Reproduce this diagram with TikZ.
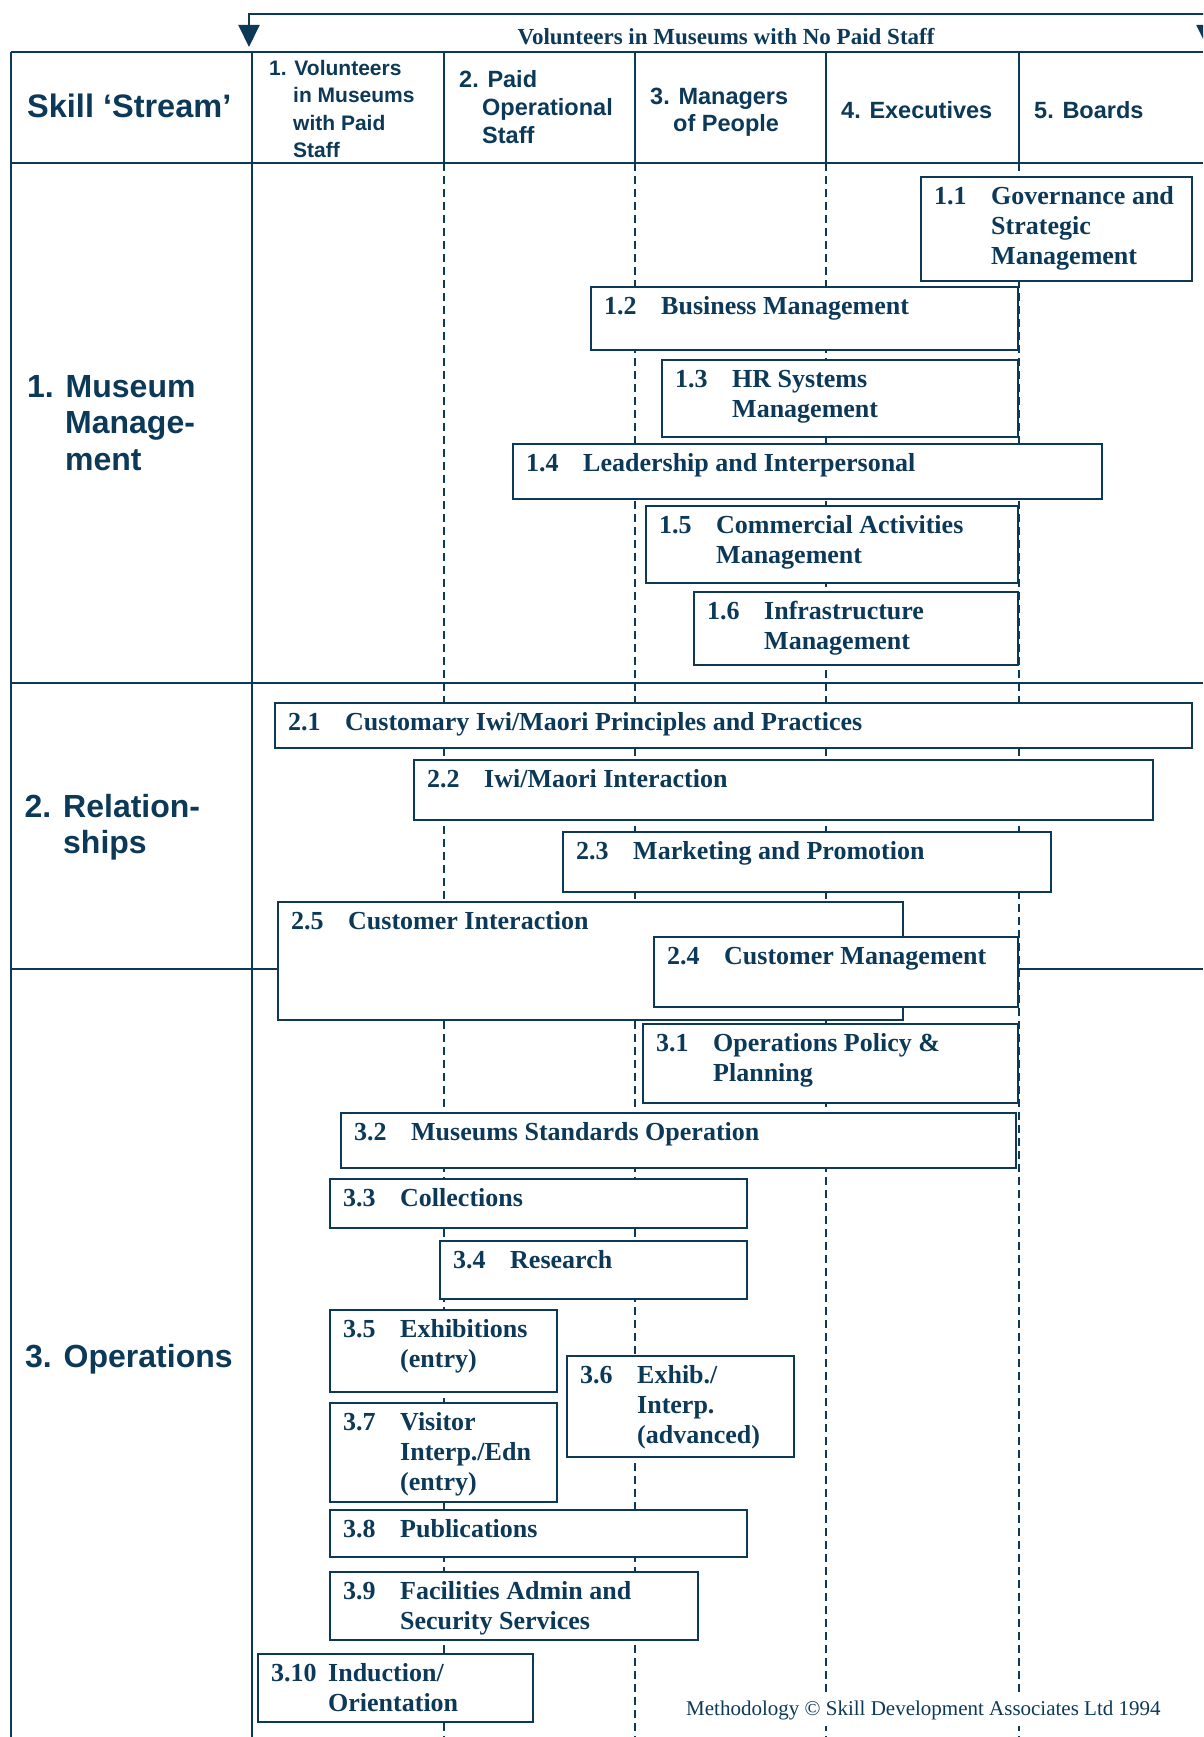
\documentclass[tikz,border=0pt]{standalone}
\usepackage{fontspec}
\setmainfont{Liberation Serif}
\setsansfont{Liberation Sans}
\usetikzlibrary{arrows.meta}
\definecolor{navy}{RGB}{13,57,89}
\tikzset{
  gridline/.style={draw=navy, line width=2pt},
  colsep/.style={draw=navy, line width=1.8pt, dash pattern=on 8pt off 5pt},
  skbox/.style={draw=navy, fill=white, line width=2.8pt, inner sep=0pt, outer sep=0pt, anchor=north west},
  boxtxt/.style={text=navy, inner sep=0pt, anchor=base west, font=\fontsize{26}{30}\selectfont\bfseries},
  hdrtxt/.style={text=navy, inner sep=0pt, anchor=base west, font=\sffamily\bfseries\fontsize{23.5}{27.5}\selectfont},
  hdrsmall/.style={text=navy, inner sep=0pt, anchor=base west, font=\sffamily\bfseries\fontsize{21}{27.5}\selectfont},
  secttxt/.style={text=navy, inner sep=0pt, anchor=base west, font=\sffamily\bfseries\fontsize{32}{36.5}\selectfont},
  arrowtip/.tip={Triangle[width=21pt,length=22pt]}
}
\newcommand{\skb}[7]{%
  \node[skbox, minimum width={(#4-#2)*1pt}, minimum height={(#5-#3)*1pt}] (b#1) at (#2,#3) {};
  \node[boxtxt] (n#1) at ({#2+13},{#3+27}) {#6};
  \node[boxtxt] (t#1) at ({#2+70},{#3+27}) {\vtop{#7}};
}
\newcommand{\skl}[1]{\hbox{#1}}
\begin{document}
\begin{tikzpicture}[x=1pt,y=-1pt]
\useasboundingbox (0,0) rectangle (1203,1737);
\clip (0,0) rectangle (1203,1737);
\fill[white] (0,0) rectangle (1203,1737);

% top arrow
\coordinate (aL) at (249,47);
\coordinate (aTL) at (249,14);
\coordinate (aTR) at (1207,14);
\coordinate (aR) at (1207,47);
\draw[gridline, arrowtip-arrowtip] (aL) -- (aTL) -- (aTR) -- (aR);
\node[text=navy, inner sep=0pt, anchor=base, font=\bfseries\fontsize{23}{27}\selectfont] (nopaid) at (726,45) {Volunteers in Museums with No Paid Staff};

% table grid
\draw[gridline] (11,52) -- (1203,52);
\draw[gridline] (11,163) -- (1203,163);
\draw[gridline] (11,52) -- (11,1737);
\draw[gridline] (252,52) -- (252,1737);
\foreach \cx in {444,635,826,1019} {
  \draw[gridline] (\cx,52) -- (\cx,163);
  \draw[colsep] (\cx,163) -- (\cx,1737);
}
\draw[gridline] (11,683) -- (1203,683);
\draw[gridline] (11,969) -- (1203,969);

% headers
\node[secttxt, font=\sffamily\bfseries\fontsize{32.5}{36.5}\selectfont] (hskill) at (27,117) {Skill ‘Stream’};
\node[hdrsmall] (h1) at (293,75) {\vtop{\skl{\kern-24pt 1. Volunteers}\skl{in Museums}\skl{with Paid}\skl{Staff}}};
\node[hdrtxt] (h2) at (482,88) {\vtop{\skl{\kern-23pt 2. Paid}\skl{Operational}\skl{Staff}}};
\node[hdrtxt] (h3) at (673,104) {\vtop{\skl{\kern-23pt 3. Managers}\skl{of People}}};
\node[hdrtxt] (h4) at (841,118) {4. Executives};
\node[hdrtxt] (h5) at (1034,118) {5. Boards};

% section labels
\node[secttxt] (s1) at (65,397) {\vtop{\skl{\kern-38pt 1. Museum}\skl{Manage-}\skl{ment}}};
\node[secttxt] (s2) at (63,817) {\vtop{\skl{\kern-38.5pt 2. Relation-}\skl{ships}}};
\node[secttxt] (s3) at (25,1367) {3. Operations};

% stream 1
\skb{11}{921}{177}{1192}{281}{1.1}{\skl{Governance and}\skl{Strategic}\skl{Management}}
\skb{12}{591}{287}{1018}{350}{1.2}{\skl{Business Management}}
\skb{13}{662}{360}{1018}{437}{1.3}{\skl{HR Systems}\skl{Management}}
\skb{14}{513}{444}{1102}{499}{1.4}{\skl{Leadership and Interpersonal}}
\skb{15}{646}{506}{1018}{583}{1.5}{\skl{Commercial Activities}\skl{Management}}
\skb{16}{694}{592}{1018}{665}{1.6}{\skl{Infrastructure}\skl{Management}}

% stream 2
\skb{21}{275}{703}{1192}{748}{2.1}{\skl{Customary Iwi/Maori Principles and Practices}}
\skb{22}{414}{760}{1153}{820}{2.2}{\skl{Iwi/Maori Interaction}}
\skb{23}{563}{832}{1051}{892}{2.3}{\skl{Marketing and Promotion}}
\skb{25}{278}{902}{903}{1020}{2.5}{\skl{Customer Interaction}}
\skb{24}{654}{937}{1018}{1007}{2.4}{\skl{Customer Management}}

% stream 3
\skb{31}{643}{1024}{1018}{1103}{3.1}{\skl{Operations Policy \&}\skl{Planning}}
\skb{32}{341}{1113}{1016}{1168}{3.2}{\skl{Museums Standards Operation}}
\skb{33}{330}{1179}{747}{1228}{3.3}{\skl{Collections}}
\skb{34}{440}{1241}{747}{1299}{3.4}{\skl{Research}}
\skb{35}{330}{1310}{557}{1392}{3.5}{\skl{Exhibitions}\skl{(entry)}}
\skb{36}{567}{1356}{794}{1457}{3.6}{\skl{Exhib./}\skl{Interp.}\skl{(advanced)}}
\skb{37}{330}{1403}{557}{1502}{3.7}{\skl{Visitor}\skl{Interp./Edn}\skl{(entry)}}
\skb{38}{330}{1510}{747}{1557}{3.8}{\skl{Publications}}
\skb{39}{330}{1572}{698}{1640}{3.9}{\skl{Facilities Admin and}\skl{Security Services}}
\skb{310}{258}{1654}{533}{1722}{3.10}{\skl{Induction/}\skl{Orientation}}

\node[text=navy, fill=white, inner xsep=3pt, inner ysep=6pt, anchor=base west, font=\fontsize{21}{25}\selectfont] (credit) at (683,1715) {Methodology © Skill Development Associates Ltd 1994};
\end{tikzpicture}
\end{document}
